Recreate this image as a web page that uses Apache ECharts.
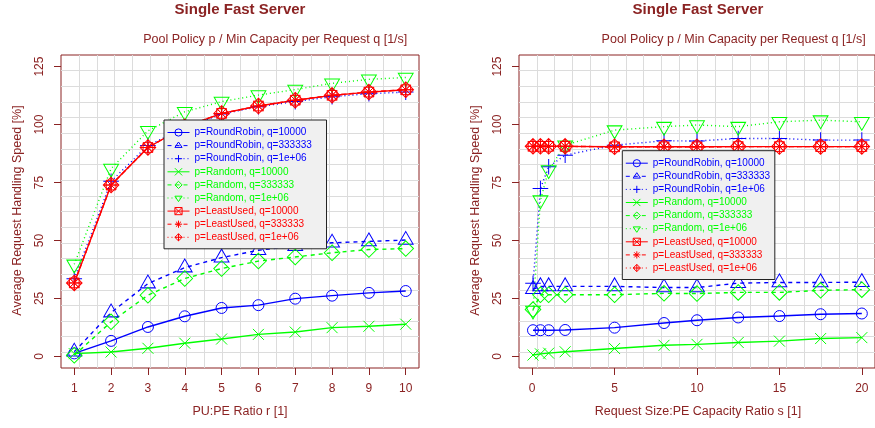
<!DOCTYPE html>
<html><head><meta charset="utf-8">
<script src="https://cdn.jsdelivr.net/npm/echarts@6/dist/echarts.min.js"></script>
<style>html,body{margin:0;padding:0;background:#fff}#c{width:875px;height:428px}</style>
</head><body><div id="c"></div>
<script>
// ---------- data ----------
const rRatio = [1, 2, 3, 4, 5, 6, 7, 8, 9, 10];
const sRatio = [0.05, 0.5, 1, 2, 5, 8, 10, 12.5, 15, 17.5, 20];
const rTicks = [1, 2, 3, 4, 5, 6, 7, 8, 9, 10];
const sTicks = [0, 5, 10, 15, 20];
const yTicks = [0, 25, 50, 75, 100, 125];

const seriesNames = [
  'p=RoundRobin, q=10000', 'p=RoundRobin, q=333333', 'p=RoundRobin, q=1e+06',
  'p=Random, q=10000', 'p=Random, q=333333', 'p=Random, q=1e+06',
  'p=LeastUsed, q=10000', 'p=LeastUsed, q=333333', 'p=LeastUsed, q=1e+06'
];

// Left panel: PU:PE ratio r
const L_RR_q10000  = [1.3, 6.7, 12.7, 17.3, 20.9, 22.1, 24.9, 26.2, 27.4, 28.2];
const L_RR_q333333 = [2.0, 18.9, 31.4, 38.3, 42.6, 45.8, 47.5, 49.0, 49.6, 50.2];
const L_RR_q1e06   = [33.5, 75.5, 91.0, 98.5, 104.5, 107.7, 109.9, 112.0, 113.3, 114.0];
const L_RD_q10000  = [1.2, 1.9, 3.5, 5.7, 7.5, 9.5, 10.5, 12.4, 13.0, 13.9];
const L_RD_q333333 = [0.5, 14.9, 26.4, 33.6, 37.9, 41.1, 42.9, 44.7, 46.1, 46.5];
const L_RD_q1e06   = [39.7, 81.0, 97.3, 105.5, 109.9, 112.7, 115.1, 117.8, 119.5, 120.3];
const L_LU_q10000  = [31.7, 73.9, 90.1, 99.0, 104.8, 108.0, 110.5, 112.6, 114.0, 115.0];
const L_LU_q333333 = [31.7, 73.9, 90.1, 99.0, 104.8, 108.0, 110.5, 112.6, 114.0, 115.0];
const L_LU_q1e06   = [31.7, 73.9, 90.1, 99.0, 104.8, 108.0, 110.5, 112.6, 114.0, 115.0];

// Right panel: request size : PE capacity ratio s
const R_RR_q10000  = [11.3, 11.3, 11.3, 11.4, 12.4, 14.4, 15.6, 16.8, 17.4, 18.2, 18.5];
const R_RR_q333333 = [29.0, 30.2, 30.2, 30.2, 30.2, 29.7, 29.7, 31.6, 31.9, 31.9, 32.0];
const R_RR_q1e06   = [31.5, 72.4, 81.8, 86.8, 91.1, 93.0, 92.9, 94.0, 94.0, 93.3, 93.3];
const R_RD_q10000  = [0.6, 1.1, 1.4, 2.0, 3.4, 4.8, 5.2, 6.0, 6.6, 7.7, 8.1];
const R_RD_q333333 = [20.2, 26.6, 26.6, 26.6, 26.6, 27.2, 27.1, 27.6, 27.6, 28.5, 28.8];
const R_RD_q1e06   = [19.8, 67.4, 80.4, 91.1, 97.6, 99.1, 99.8, 99.1, 101.2, 101.9, 101.2];
const R_LU_q10000  = [90.6, 90.6, 90.6, 90.6, 90.4, 90.4, 90.4, 90.5, 90.5, 90.5, 90.5];
const R_LU_q333333 = [90.6, 90.6, 90.6, 90.6, 90.4, 90.4, 90.4, 90.5, 90.5, 90.5, 90.5];
const R_LU_q1e06   = [90.6, 90.6, 90.6, 90.6, 90.4, 90.4, 90.4, 90.5, 90.5, 90.5, 90.5];

const leftValues  = [L_RR_q10000, L_RR_q333333, L_RR_q1e06, L_RD_q10000, L_RD_q333333, L_RD_q1e06, L_LU_q10000, L_LU_q333333, L_LU_q1e06];
const rightValues = [R_RR_q10000, R_RR_q333333, R_RR_q1e06, R_RD_q10000, R_RD_q333333, R_RD_q1e06, R_LU_q10000, R_LU_q333333, R_LU_q1e06];

// ---------- style ----------
const BROWN = '#8B2323';
const FONT = '"Liberation Sans", Arial, Helvetica, sans-serif';
const BLUE = '#0000FF', GREEN = '#00FF00', RED = '#FF0000';
const colors = [BLUE, BLUE, BLUE, GREEN, GREEN, GREEN, RED, RED, RED];
const dashes = ['solid', [4, 4], [1, 3], 'solid', [4, 4], [1, 3], 'solid', [4, 4], [1, 3]];
const SYM = {
  circle: 'circle',
  tri: 'path://M5,0L10,8.66L0,8.66ZM5,11.547',
  plus: 'path://M0,5L10,5M5,0L5,10',
  cross: 'path://M0,0L10,10M10,0L0,10',
  diamond: 'path://M5,0L10,5L5,10L0,5Z',
  dtri: 'path://M5,0M0,2.887L10,2.887L5,11.547Z',
  sqx: 'path://M0,0L10,0L10,10L0,10ZM0,0L10,10M10,0L0,10',
  aster: 'path://M0,5L10,5M5,0L5,10M1.46,1.46L8.54,8.54M8.54,1.46L1.46,8.54',
  dplus: 'path://M5,0L10,5L5,10L0,5ZM0,5L10,5M5,0L5,10'
};
const symbols = [SYM.circle, SYM.tri, SYM.plus, SYM.cross, SYM.diamond, SYM.dtri, SYM.sqx, SYM.aster, SYM.dplus];
const sizes = [11, [14.8, 17.1], 15.6, 11, 15.6, [14.8, 17.1], 9.7, 12, 15.6];

// plot frames (R plot regions)
const frames = [
  {left: 61, top: 55, width: 358, height: 313},
  {left: 519, top: 55, width: 358, height: 313}
];

const series = [];
[0, 1].forEach(function (p) {
  const xs = p ? sRatio : rRatio;
  const vals = p ? rightValues : leftValues;
  for (let i = 0; i < 9; i++) {
    series.push({
      name: seriesNames[i], type: 'line', xAxisIndex: p, yAxisIndex: p,
      data: xs.map(function (x, k) { return [x, vals[i][k]]; }),
      symbol: symbols[i], symbolSize: sizes[i], showAllSymbol: true,
      lineStyle: {color: colors[i], width: 1.4, type: dashes[i]},
      itemStyle: {color: 'rgba(0,0,0,0)', borderColor: colors[i], borderWidth: 1},
      emphasis: {disabled: true}, silent: true, clip: false, animation: false,
      z: 3
    });
  }
});

function dataX(p) {
  const ticks = p ? sTicks : rTicks;
  return {
    gridIndex: p, type: 'value', min: p ? -0.8 : 0.64, max: p ? 20.8 : 10.36,
    axisLine: {show: false, onZero: false},
    axisTick: {show: true, inside: false, length: 7, customValues: ticks, lineStyle: {color: BROWN, width: 1}},
    axisLabel: {color: BROWN, fontSize: 12, fontFamily: FONT, margin: 15, customValues: ticks},
    splitLine: {show: false}
  };
}
function dataY(p) {
  return {
    gridIndex: p, type: 'value', min: -5, max: 130,
    axisLine: {show: false, onZero: false},
    axisTick: {show: true, inside: false, length: 7, customValues: yTicks, lineStyle: {color: BROWN, width: 1}},
    axisLabel: {color: BROWN, fontSize: 12, fontFamily: FONT, rotate: 90, margin: 15, customValues: yTicks},
    splitLine: {show: false}
  };
}
function frameAxis(g) {
  return {
    gridIndex: g, type: 'value', min: 0, max: 20, interval: 1,
    axisLine: {show: false, onZero: false}, axisTick: {show: false}, axisLabel: {show: false},
    splitLine: {show: true, showMinLine: false, showMaxLine: false, lineStyle: {color: '#dcdcdc', width: 1}}
  };
}

function legendFor(left, top, padRight) {
  return {
    left: left, top: top, orient: 'vertical',
    padding: [7.5, padRight, 6.5, 3],
    itemWidth: 22, itemHeight: 9, itemGap: 3.1,
    backgroundColor: '#f0f0f0', borderColor: '#222', borderWidth: 1, borderRadius: 0,
    selectedMode: false, z: 10,
    itemStyle: {color: 'rgba(0,0,0,0)', borderWidth: 1},
    lineStyle: {width: 1},
    textStyle: {fontSize: 10, fontFamily: FONT, lineHeight: 9},
    data: seriesNames.map(function (n, i) {
      return {name: n, textStyle: {color: colors[i]},
              itemStyle: {color: 'rgba(0,0,0,0)', borderColor: colors[i], borderWidth: 1}};
    })
  };
}

function txt(x, y, text, font, align, rot) {
  return {
    type: 'text', x: x, y: y, rotation: rot || 0, silent: true,
    style: {text: text, font: font, fill: BROWN, align: align, textAlign: align,
            verticalAlign: 'middle', textVerticalAlign: 'middle'}
  };
}

const option = {
  animation: false,
  textStyle: {fontFamily: FONT},
  grid: [
    Object.assign({show: false}, frames[0]),
    Object.assign({show: false}, frames[1]),
    Object.assign({show: true, borderColor: BROWN, borderWidth: 1, backgroundColor: 'transparent'}, frames[0]),
    Object.assign({show: true, borderColor: BROWN, borderWidth: 1, backgroundColor: 'transparent'}, frames[1])
  ],
  xAxis: [dataX(0), dataX(1), frameAxis(2), frameAxis(3)],
  yAxis: [dataY(0), dataY(1), frameAxis(2), frameAxis(3)],
  legend: [legendFor(164, 120, 14.7), legendFor(622.3, 150.7, 4.7)],
  series: series,
  graphic: [
    txt(240, 9.5, 'Single Fast Server', 'bold 15px ' + FONT, 'center'),
    txt(698, 9.5, 'Single Fast Server', 'bold 15px ' + FONT, 'center'),
    txt(407.3, 40, 'Pool Policy p / Min Capacity per Request q [1/s]', '12.5px ' + FONT, 'right'),
    txt(865.6, 40, 'Pool Policy p / Min Capacity per Request q [1/s]', '12.5px ' + FONT, 'right'),
    txt(240, 412, 'PU:PE Ratio r [1]', '12.5px ' + FONT, 'center'),
    txt(698, 412, 'Request Size:PE Capacity Ratio s [1]', '12.5px ' + FONT, 'center'),
    txt(18, 210.5, 'Average Request Handling Speed [%]', '12.5px ' + FONT, 'center', Math.PI / 2),
    txt(476, 210.5, 'Average Request Handling Speed [%]', '12.5px ' + FONT, 'center', Math.PI / 2)
  ]
};

const chart = echarts.init(document.getElementById('c'), null, {renderer: 'canvas'});
chart.setOption(option);
</script>
</body></html>
